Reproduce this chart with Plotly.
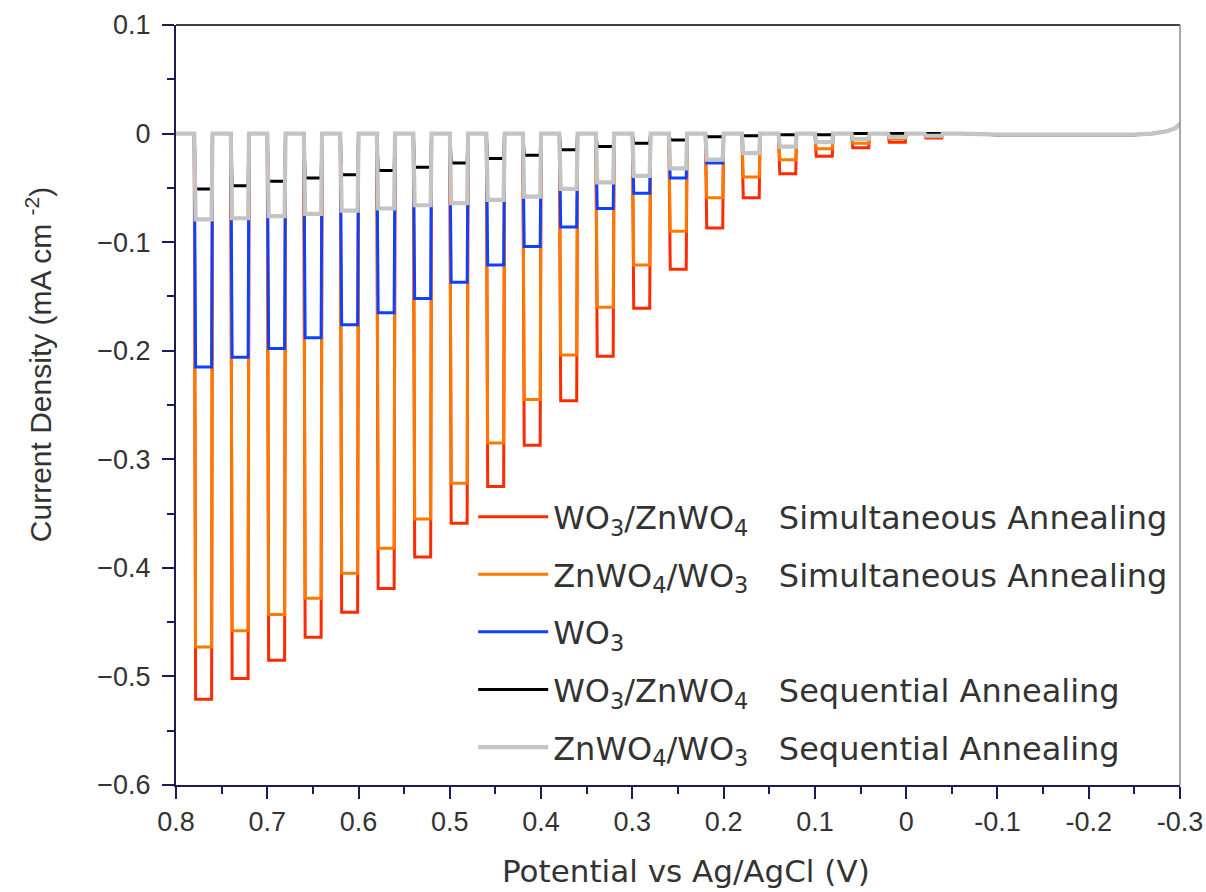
import plotly.graph_objects as go

# Chopped-light linear sweep: potentials (V vs Ag/AgCl) where the lamp is switched on / off
light_on = [0.78, 0.74, 0.70, 0.66, 0.62, 0.58, 0.54, 0.50, 0.46, 0.42, 0.38,
            0.34, 0.30, 0.26, 0.22, 0.18, 0.14, 0.10, 0.06, 0.02, -0.02]
light_off = [0.76, 0.72, 0.68, 0.64, 0.60, 0.56, 0.52, 0.48, 0.44, 0.40, 0.36,
             0.32, 0.28, 0.24, 0.20, 0.16, 0.12, 0.08, 0.04, 0.00, -0.04]

# Photocurrent plateau during each light pulse (mA cm^-2)
j_wo3_znwo4_sim = [-0.521, -0.502, -0.485, -0.464, -0.441, -0.419, -0.390, -0.359, -0.325,
                   -0.287, -0.246, -0.205, -0.161, -0.125, -0.087, -0.059, -0.037, -0.021,
                   -0.013, -0.008, -0.004]
j_znwo4_wo3_sim = [-0.473, -0.458, -0.443, -0.428, -0.405, -0.382, -0.355, -0.322, -0.285,
                   -0.245, -0.204, -0.160, -0.121, -0.090, -0.059, -0.040, -0.024, -0.014,
                   -0.009, -0.005, -0.003]
j_wo3 = [-0.215, -0.206, -0.198, -0.188, -0.176, -0.165, -0.152, -0.137, -0.121,
         -0.104, -0.086, -0.069, -0.055, -0.041, -0.027, -0.018, -0.012, -0.008,
         -0.005, -0.003, -0.002]
j_wo3_znwo4_seq = [-0.051, -0.048, -0.044, -0.041, -0.038, -0.034, -0.031, -0.027, -0.023,
                   -0.020, -0.015, -0.012, -0.009, -0.006, -0.003, -0.002, -0.001, -0.001,
                   0.000, 0.000, 0.000]
j_znwo4_wo3_seq = [-0.079, -0.078, -0.076, -0.074, -0.071, -0.069, -0.066, -0.064, -0.061,
                   -0.058, -0.051, -0.045, -0.039, -0.032, -0.024, -0.018, -0.012, -0.008,
                   -0.005, -0.003, -0.002]

# Dark current after the last light pulse
dark_V = [-0.06, -0.10, -0.15, -0.20, -0.25, -0.27, -0.285, -0.295, -0.30]
dark_j = [0.000, -0.001, -0.001, -0.001, -0.001, 0.000, 0.002, 0.005, 0.009]

x_ticks = [0.8, 0.7, 0.6, 0.5, 0.4, 0.3, 0.2, 0.1, 0.0, -0.1, -0.2, -0.3]
x_ticktext = ["0.8", "0.7", "0.6", "0.5", "0.4", "0.3", "0.2", "0.1", "0", "-0.1", "-0.2", "-0.3"]
y_ticks = [0.1, 0.0, -0.1, -0.2, -0.3, -0.4, -0.5, -0.6]
y_ticktext = ["0.1", "0", "\u22120.1", "\u22120.2", "\u22120.3", "\u22120.4", "\u22120.5", "\u22120.6"]

series = [
    ("WO<sub>3</sub>/ZnWO<sub>4</sub>\u00a0\u00a0\u00a0Simultaneous Annealing", j_wo3_znwo4_sim, "#ff2a00", 3.0),
    ("ZnWO<sub>4</sub>/WO<sub>3</sub>\u00a0\u00a0\u00a0Simultaneous Annealing", j_znwo4_wo3_sim, "#ff7800", 3.0),
    ("WO<sub>3</sub>", j_wo3, "#1040ff", 3.0),
    ("WO<sub>3</sub>/ZnWO<sub>4</sub>\u00a0\u00a0\u00a0Sequential Annealing", j_wo3_znwo4_seq, "#000000", 3.0),
    ("ZnWO<sub>4</sub>/WO<sub>3</sub>\u00a0\u00a0\u00a0Sequential Annealing", j_znwo4_wo3_seq, "#c4c4c4", 4.2),
]


def chopped_trace(levels):
    """Square-wave current: zero in the dark, plateau level while illuminated."""
    xs, ys = [0.80], [0.0]
    for v_on, v_off, j in zip(light_on, light_off, levels):
        xs += [v_on, v_on - 0.0015, v_off + 0.001, v_off]
        ys += [0.0, j, j, 0.0]
    xs += dark_V
    ys += dark_j
    return xs, ys


fig = go.Figure()
for i, (name, levels, color, width) in enumerate(series):
    xs, ys = chopped_trace(levels)
    fig.add_trace(go.Scatter(x=xs, y=ys, mode="lines", name=name, legendgroup=f"g{i}",
                             line=dict(color=color, width=width)))

axis_color = "#1c1c55"
text_color = "#333333"
tick_font = dict(family="Liberation Sans, Arial, sans-serif", size=27, color=text_color)

fig.update_layout(
    width=1206, height=892,
    margin=dict(l=176, r=26, t=25, b=107),
    plot_bgcolor="white", paper_bgcolor="white",
    showlegend=True,
    legend=dict(x=0.296, y=0.389, xanchor="left", yanchor="top",
                bgcolor="rgba(0,0,0,0)", borderwidth=0,
                font=dict(family="DejaVu Sans, sans-serif", size=32, color=text_color),
                tracegroupgap=13, itemwidth=70),
    xaxis=dict(range=[0.8, -0.3], tickmode="array", tickvals=x_ticks, ticktext=x_ticktext,
               ticks="outside", ticklen=12, tickwidth=2, tickcolor=axis_color,
               ticklabelstandoff=0, automargin=False,
               showline=True, linecolor=axis_color, linewidth=2,
               showgrid=False, zeroline=False, tickfont=tick_font,
               minor=dict(tickmode="linear", tick0=0.05, dtick=0.1, ticks="outside",
                          ticklen=7, tickwidth=2, tickcolor=axis_color, showgrid=False)),
    yaxis=dict(range=[-0.6, 0.1], tickmode="array", tickvals=y_ticks, ticktext=y_ticktext,
               ticks="outside", ticklen=12, tickwidth=2, tickcolor=axis_color,
               ticklabelstandoff=6, automargin=False,
               showline=True, linecolor=axis_color, linewidth=2,
               showgrid=False, zeroline=False, tickfont=tick_font,
               minor=dict(tickmode="linear", tick0=0.05, dtick=0.1, ticks="outside",
                          ticklen=7, tickwidth=2, tickcolor=axis_color, showgrid=False)),
    shapes=[
        dict(type="line", xref="paper", yref="paper", x0=0, x1=1, y0=1, y1=1,
             line=dict(color="#000000", width=1.5)),
        dict(type="line", xref="paper", yref="paper", x0=1, x1=1, y0=0, y1=1,
             line=dict(color="#8a8a8a", width=1.5)),
    ],
    annotations=[
        dict(text="Potential vs Ag/AgCl (V)", xref="paper", yref="paper",
             x=0.508, y=-0.113, xanchor="center", yanchor="middle", showarrow=False,
             font=dict(family="DejaVu Sans, sans-serif", size=31, color=text_color)),
        dict(text="Current Density (mA cm <sup>-2</sup>)", xref="paper", yref="paper",
             x=-0.137, y=0.553, xanchor="center", yanchor="middle", textangle=-90,
             showarrow=False,
             font=dict(family="Liberation Sans, Arial, sans-serif", size=30, color=text_color)),
    ],
)

fig.write_html("out.html")
